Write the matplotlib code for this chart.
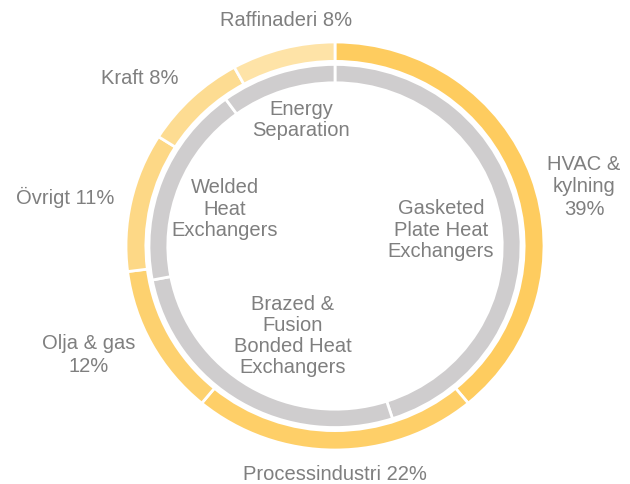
import numpy as np
import matplotlib
matplotlib.use("Agg")
from matplotlib import pyplot as plt

# Outer ring: segments by industry (percent)
outer_labels = ["HVAC &\nkylning\n39%", "Processindustri 22%", "Olja & gas\n12%",
                "Övrigt 11%", "Kraft 8%", "Raffinaderi 8%"]
outer_values = [39, 22, 12, 11, 8, 8]
outer_colors = ["#FECC5F", "#FECF68", "#FDD16F", "#FDD886", "#FDDC92", "#FEE3A7"]

# Inner ring: product groups (share)
inner_labels = ["Gasketed\nPlate Heat\nExchangers", "Brazed &\nFusion\nBonded Heat\nExchangers",
                "Welded\nHeat\nExchangers", "Energy\nSeparation"]
inner_values = [45, 27, 18, 10]
inner_color = "#CFCDCE"

W, H = 630, 484
cx, cy = 335, 246          # ring centre in pixels
rx, ry = 209, 204          # outer radius in pixels (x / y)

plt.rcParams['font.family'] = ['Liberation Sans', 'DejaVu Sans']
fig = plt.figure(figsize=(W / 100, H / 100), dpi=100)
ax = fig.add_axes([0, 0, 1, 1])
ax.axis('off')

ax.pie(outer_values, radius=1.0, startangle=90, counterclock=False,
       colors=outer_colors,
       wedgeprops=dict(width=0.095, edgecolor='white', linewidth=2))
ax.pie(inner_values, radius=0.89, startangle=90, counterclock=False,
       colors=[inner_color] * len(inner_values),
       wedgeprops=dict(width=0.09, edgecolor='white', linewidth=2))
ax.set_xlim(-cx / rx, (W - cx) / rx)
ax.set_ylim(-(H - cy) / ry, cy / ry)
ax.set_aspect('auto')

def put(x, y, s, ha='center', size=14.5, ls=1.25):
    fig.text(x / W, 1 - y / H, s, ha=ha, va='center', multialignment=ha,
             color='#7F7F7F', fontsize=size, linespacing=ls)

# outer labels
put(584, 187, outer_labels[0])
put(335, 474, outer_labels[1])
put(89, 355, outer_labels[2])
put(65, 197, outer_labels[3])
put(140, 78, outer_labels[4])
put(286, 20, outer_labels[5])

# inner labels
put(441, 230, inner_labels[0], ls=1.15)
put(293, 336, inner_labels[1], ls=1.15)
put(225, 209, inner_labels[2], ls=1.15)
put(301, 120, inner_labels[3], ls=1.15)

fig.savefig("out.png", dpi=100)
